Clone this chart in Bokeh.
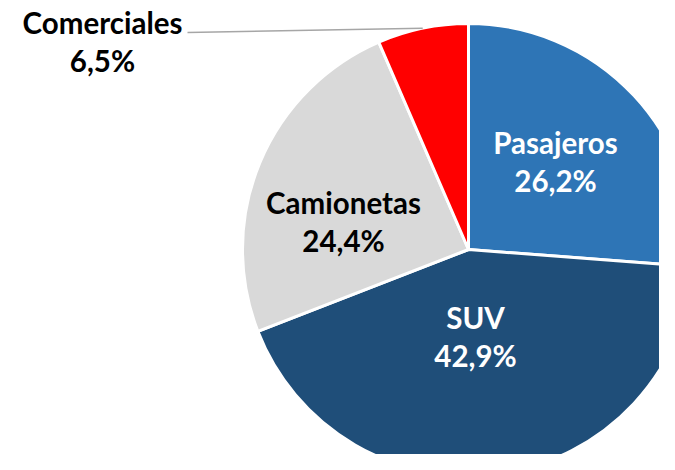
import math
from bokeh.plotting import figure
from bokeh.models import Range1d, ColumnDataSource
from bokeh.core.properties import value
from bokeh.embed import file_html
from bokeh.resources import INLINE

# ---- data ----
categories = ["Pasajeros", "SUV", "Camionetas", "Comerciales"]
shares = [26.2, 42.9, 24.4, 6.5]
pct_labels = ["26,2%", "42,9%", "24,4%", "6,5%"]
colors = ["#2E75B6", "#1F4E79", "#D9D9D9", "#FF0000"]
text_colors = ["white", "white", "black", "black"]

# ---- layout (pixel-like units) ----
W, H = 659, 454
cx, cy, R = 468, -249, 226
# name offsets from the pie centre, per label
label_dx = [87, 7, -125, -366]
label_dy = [107, -68, 47, 227]
line_gap = 38
font = "Lato"
fsize = "29.5px"
leader_dx, leader_dy = -281, 217

total = sum(shares)
starts, ends, mids = [], [], []
cum = 0.0
for s in shares:
    a0 = math.pi / 2 - 2 * math.pi * cum / total
    cum += s
    a1 = math.pi / 2 - 2 * math.pi * cum / total
    starts.append(a0)
    ends.append(a1)
    mids.append((a0 + a1) / 2)

p = figure(width=W, height=H, output_backend="svg", toolbar_location=None,
           x_range=Range1d(0, W), y_range=Range1d(-H, 0),
           min_border=0)
p.axis.visible = False
p.grid.visible = False
p.outline_line_color = None
p.background_fill_color = "white"
p.border_fill_color = "white"

src = ColumnDataSource(dict(start=starts, end=ends, color=colors))
p.wedge(x=cx, y=cy, radius=R, start_angle="start", end_angle="end",
        direction="clock", fill_color="color", line_color="white",
        line_width=3, source=src)

# leader line for the outside label (Comerciales)
i = 3
ex = cx + R * math.cos(mids[i])
ey = cy + R * math.sin(mids[i])
p.line(x=[cx + leader_dx, ex], y=[cy + leader_dy, ey],
       line_color="#A6A6A6", line_width=1.5)

lab = ColumnDataSource(dict(
    x=[cx + d for d in label_dx],
    y1=[cy + d for d in label_dy],
    y2=[cy + d - line_gap for d in label_dy],
    name=categories, pct=pct_labels, tc=text_colors))
for col, ycol in (("name", "y1"), ("pct", "y2")):
    p.text(x="x", y=ycol, text=col, source=lab, text_color="tc",
           text_font=value(font), text_font_style="bold",
           text_font_size=fsize, text_align="center",
           text_baseline="alphabetic")

open("out.html", "w").write(file_html(p, INLINE))
